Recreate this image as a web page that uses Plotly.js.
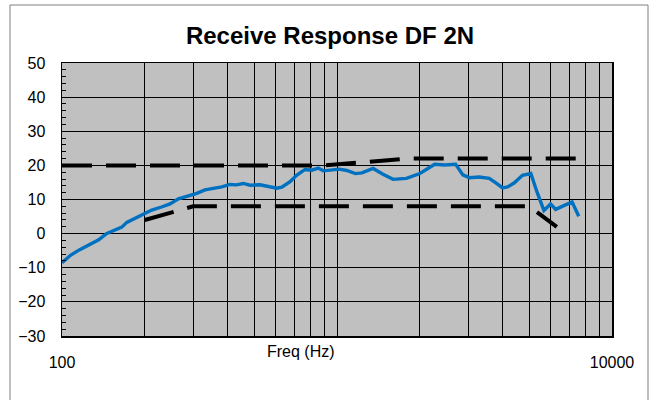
<!DOCTYPE html>
<html>
<head>
<meta charset="utf-8">
<script src="https://cdn.plot.ly/plotly-3.0.1.min.js"></script>
<style>html,body{margin:0;padding:0;background:#fff;}#chart{width:651px;height:400px;}</style>
</head>
<body>
<div id="chart"></div>
<script>
// Measured response (Hz, dB)
const freq = [100, 108, 116, 126, 136, 145, 158, 165, 172, 184, 198, 212, 230, 247, 265, 280, 296, 309, 331, 360, 381, 408, 431, 456, 483, 525, 563, 604, 630, 675, 713, 765, 809, 855, 892, 954, 1021, 1085, 1166, 1232, 1353, 1470, 1600, 1789, 2000, 2111, 2266, 2463, 2700, 2869, 3030, 3291, 3577, 3781, 4000, 4171, 4415, 4725, 5068, 5348, 5655, 5981, 6237, 6682, 7160, 7570];
const level = [-8.5, -6.2, -4.7, -3.2, -1.8, 0, 1.2, 1.9, 3.3, 4.4, 5.8, 6.9, 7.8, 8.7, 10.2, 10.8, 11.2, 11.8, 12.8, 13.2, 13.7, 14.4, 14.3, 14.7, 14.2, 14.3, 13.9, 13.3, 13.6, 15.2, 17.1, 18.8, 18.6, 19.2, 18.4, 18.6, 18.9, 18.5, 17.6, 17.8, 19.1, 17.4, 15.9, 16.2, 17.6, 18.8, 20.3, 20.1, 20.3, 17.2, 16.4, 16.6, 16.2, 14.9, 13.4, 13.7, 14.9, 17.1, 17.6, 12.0, 6.8, 8.7, 7.1, 8.2, 9.3, 5.1];

// Upper mask
const upperFreq = [100, 900, 1800, 8000];
const upperLevel = [20, 20, 22, 22];

// Lower mask
const lowerFreq = [200, 300, 5000, 6300];
const lowerLevel = [4, 8, 8, 2];

// Axis ticks
const xTickVals = [100, 200, 300, 400, 500, 600, 700, 800, 900, 1000, 2000, 3000, 4000, 5000, 6000, 7000, 8000, 9000, 10000];
const xTickText = ['100', '', '', '', '', '', '', '', '', '', '', '', '', '', '', '', '', '', '10000'];
const yTickVals = [-30, -20, -10, 0, 10, 20, 30, 40, 50];

const titleText = 'Receive Response DF 2N';
const xTitleText = 'Freq (Hz)';

const W = 651, H = 400;
const L = 62, R = 612, T = 63, B = 336;
const pw = R - L, ph = B - T;
const px = v => (v - L) / pw;
const py = v => (B - v) / ph;

const dashStyle = '30px,14px';

const traces = [
  {x: upperFreq, y: upperLevel, mode: 'lines', line: {color: '#000000', width: 4, dash: dashStyle}, hoverinfo: 'skip'},
  {x: lowerFreq, y: lowerLevel, mode: 'lines', line: {color: '#000000', width: 4, dash: dashStyle}, hoverinfo: 'skip'},
  {x: freq, y: level, mode: 'lines', line: {color: '#0070C0', width: 3.4}}
];

const font = 'Liberation Sans, Arial, sans-serif';

const layout = {
  width: W, height: H,
  margin: {l: L, r: W - R, t: T, b: H - B, pad: 0},
  paper_bgcolor: '#ffffff',
  plot_bgcolor: '#c0c0c0',
  showlegend: false,
  font: {family: font, color: '#000000', size: 16},
  title: {text: '<b>' + titleText + '</b>', font: {family: font, size: 24, color: '#000000'},
          x: 330 / W, xanchor: 'center', xref: 'container', y: 1 - 36 / H, yanchor: 'middle', yref: 'container'},
  xaxis: {
    type: 'log', range: [2, 4],
    tickmode: 'array', tickvals: xTickVals, ticktext: xTickText,
    showgrid: true, gridcolor: '#000000', gridwidth: 1,
    showline: true, linecolor: '#000000', linewidth: 1.5, mirror: true,
    ticks: '', ticklabelstandoff: 11,
    tickfont: {family: font, size: 16, color: '#000000'},
    zeroline: false
  },
  yaxis: {
    range: [-30, 50],
    tickmode: 'array', tickvals: yTickVals,
    showgrid: true, gridcolor: '#000000', gridwidth: 1,
    showline: true, linecolor: '#000000', linewidth: 1.5, mirror: true,
    ticks: 'inside', ticklen: 4, tickcolor: '#000000',
    minor: {dtick: 2, tick0: 0, ticks: 'inside', ticklen: 4, tickcolor: '#000000', showgrid: false},
    ticklabelstandoff: 12,
    tickfont: {family: font, size: 16, color: '#000000'},
    zeroline: false
  },
  annotations: [
    {text: xTitleText, xref: 'paper', yref: 'paper', x: px(301), y: py(351), xanchor: 'center', yanchor: 'middle',
     showarrow: false, font: {family: font, size: 16, color: '#000000'}}
  ],
  shapes: [
    {type: 'rect', xref: 'paper', yref: 'paper', x0: px(10), x1: px(648), y0: py(420), y1: py(5),
     line: {color: '#808080', width: 1}, fillcolor: 'rgba(0,0,0,0)', layer: 'below'}
  ]
};

Plotly.newPlot('chart', traces, layout, {staticPlot: true, displayModeBar: false});
</script>
</body>
</html>
